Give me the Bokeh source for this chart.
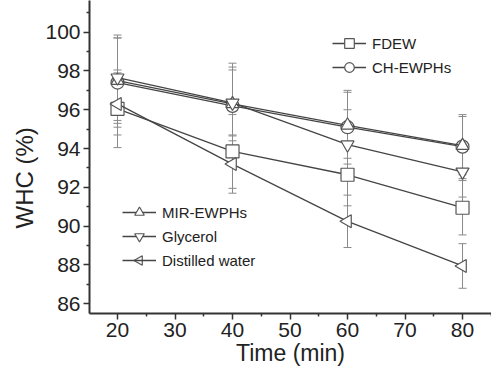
import numpy as np
from bokeh.plotting import figure
from bokeh.models import (Range1d, FixedTicker, Whisker, ColumnDataSource, Legend, LegendItem, Title)
from bokeh.embed import file_html
from bokeh.resources import INLINE

time = [20, 40, 60, 80]
fdew = [96.05, 93.85, 92.65, 90.95]
fdew_err = [2.0, 1.9, 1.6, 1.4]
ch = [97.4, 96.2, 95.1, 94.1]
ch_err = [2.3, 2.2, 1.9, 1.65]
mir = [97.5, 96.3, 95.2, 94.15]
mir_err = [2.2, 1.9, 1.7, 1.5]
gly = [97.65, 96.35, 94.2, 92.8]
gly_err = [2.2, 1.7, 1.8, 1.3]
dw = [96.3, 93.2, 90.25, 87.95]
dw_err = [1.6, 1.5, 1.35, 1.15]

names = ["FDEW", "CH-EWPHs", "MIR-EWPHs", "Glycerol", "Distilled water"]
markers = ["square", "circle", "triangle", "inverted_triangle", "triangle"]
angles = [0, 0, 0, 0, np.pi / 2]
series = [fdew, ch, mir, gly, dw]
errors = [fdew_err, ch_err, mir_err, gly_err, dw_err]

x_ticks = [20, 30, 40, 50, 60, 70, 80]
y_ticks = [86, 88, 90, 92, 94, 96, 98, 100]

FONT = "Liberation Sans"
W, H = 491, 370
BL, BB = 89, 57
FW, FH = W - BL, H - BB
p = figure(width=W, height=H, output_backend="svg", toolbar_location=None,
           x_range=Range1d(15.13, 85.04), y_range=Range1d(85.5, 101.63),
           min_border_left=BL, min_border_right=0, min_border_top=0, min_border_bottom=BB)
p.outline_line_color = None
p.grid.visible = False
p.background_fill_color = "white"
p.extra_x_ranges = {"px": Range1d(0, FW)}
p.extra_y_ranges = {"py": Range1d(0, FH)}

for ax, ticks, minors in ((p.xaxis[0], x_ticks, [15, 25, 35, 45, 55, 65, 75, 85]),
                          (p.yaxis[0], y_ticks, [87, 89, 91, 93, 95, 97, 99, 101])):
    ax.ticker = FixedTicker(ticks=ticks, minor_ticks=minors)
    ax.axis_line_width = 2
    ax.axis_line_color = "#333333"
    ax.major_tick_line_color = "#333333"
    ax.minor_tick_line_color = "#333333"
    ax.major_tick_line_width = 1.5
    ax.minor_tick_line_width = 1.5
    ax.major_tick_in = 0
    ax.major_tick_out = 6
    ax.minor_tick_in = 0
    ax.minor_tick_out = 3
    ax.major_label_text_font = FONT
    ax.major_label_text_font_size = "21px"
    ax.major_label_text_color = "#222222"
    ax.axis_label_text_font = FONT
    ax.axis_label_text_font_size = "23px"
    ax.axis_label_text_font_style = "normal"
    ax.axis_label_text_color = "#222222"

p.xaxis.axis_label = "Time (min)"
p.xaxis.major_label_standoff = 3
p.xaxis.axis_label_standoff = 0
p.yaxis.major_label_standoff = 3

# y-axis title sits below the frame centre in the reference
p.add_layout(Title(text="WHC (%)", align="left", offset=85, standoff=9,
                   text_font=FONT, text_font_size="24px", text_font_style="normal",
                   text_color="#222222"), "left")

items = {}
for name, mk, ang, ys, es in zip(names, markers, angles, series, errors):
    src = ColumnDataSource(dict(x=time, y=ys,
                                lo=[v - e for v, e in zip(ys, es)],
                                hi=[v + e for v, e in zip(ys, es)]))
    w = Whisker(source=src, base="x", lower="lo", upper="hi",
                line_color="#8a8a8a", line_width=1)
    w.upper_head.size = 8
    w.lower_head.size = 8
    w.upper_head.line_color = "#8a8a8a"
    w.lower_head.line_color = "#8a8a8a"
    p.add_layout(w)
    ln = p.line("x", "y", source=src, line_color="#454545", line_width=1.3)
    sc = p.scatter("x", "y", source=src, marker=mk, angle=ang, size=13,
                   fill_color="white", line_color="#555555", line_width=1.2)
    items[name] = LegendItem(label=name, renderers=[ln] if ang else [ln, sc])

GLYPH_W, GLYPH_H, SPACING = 34, 24, -5

def make_legend(keys, loc):
    lg = Legend(items=[items[k] for k in keys], location=loc,
                background_fill_alpha=0, border_line_color=None,
                label_text_font=FONT, label_text_font_size="15px",
                label_text_color="#222222",
                glyph_width=GLYPH_W, glyph_height=GLYPH_H, label_height=18,
                label_standoff=6, spacing=SPACING, padding=0, margin=0)
    p.add_layout(lg, "center")
    return lg

make_legend(["FDEW", "CH-EWPHs"], (243, 234))
loc2 = (33, 41)
make_legend(["MIR-EWPHs", "Glycerol", "Distilled water"], loc2)

# left-pointing triangle swatch for "Distilled water" (legend glyphs ignore angle)
sw_x = loc2[0] + GLYPH_W / 2
sw_y = loc2[1] + GLYPH_H / 2
p.scatter([sw_x], [sw_y], x_range_name="px", y_range_name="py",
          marker="triangle", angle=np.pi / 2, size=GLYPH_H * 0.4, level="overlay",
          fill_color="white", line_color="#555555", line_width=1.2)

open("out.html", "w").write(file_html(p, INLINE))
